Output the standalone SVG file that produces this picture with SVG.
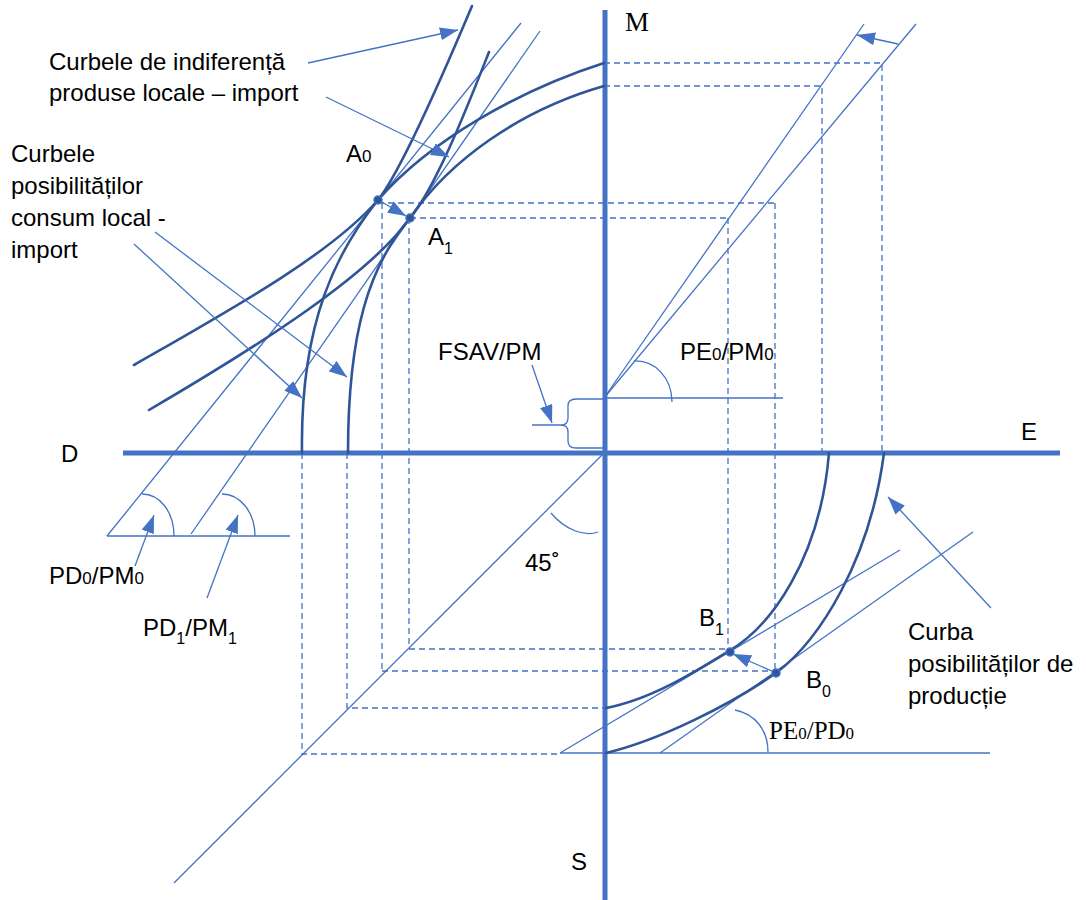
<svg xmlns="http://www.w3.org/2000/svg" width="1086" height="900" viewBox="0 0 1086 900">
<defs>
<style>
.axis{stroke:#4472C4;stroke-width:5;fill:none}
.curve{stroke:#2F5597;stroke-width:2.6;fill:none;stroke-linecap:round}
.thin{stroke:#4472C4;stroke-width:1.3;fill:none}
.dash{stroke:#4472C4;stroke-width:1.3;fill:none;stroke-dasharray:6 4}
.arr{stroke:#4472C4;stroke-width:1.3;fill:none;marker-end:url(#ah)}
.pt{fill:#2F5597;stroke:#4472C4;stroke-width:1.5}
.lbl{font-family:"Liberation Sans",Arial,sans-serif;font-size:24px;fill:#000}
.ser{font-family:"Liberation Serif","Times New Roman",serif;fill:#000}
</style>
<marker id="ah" viewBox="0 0 18 13" refX="18" refY="6.5" markerWidth="18" markerHeight="13" markerUnits="userSpaceOnUse" orient="auto">
<path d="M0,0 L18,6.5 L0,13 z" fill="#4472C4"/>
</marker>
</defs>
<rect width="1086" height="900" fill="#fff"/>

<g id="guides">
<path class="dash" d="M378,203 H775 M382,203 V671 M382,671 H776 M775,203 V671"/>
<path class="dash" d="M410,218 H728 M409,218 V649 M409,649 H729 M728,218 V649"/>
<path class="dash" d="M604,63 H882 V453 M604,86 H822 V453"/>
<path class="dash" d="M347,453 V708 H604 M302,453 V754 H560"/>
</g>

<g id="axes">
<line class="axis" x1="605" y1="10" x2="605" y2="900"/>
<line class="axis" x1="123" y1="453" x2="1060" y2="453"/>
</g>

<g id="thin-lines">
<line class="thin" x1="521" y1="23" x2="107" y2="536"/>
<line class="thin" x1="540" y1="31" x2="191" y2="534"/>
<line class="thin" x1="107" y1="536" x2="290" y2="536"/>
<path class="thin" d="M142,494 C160,494 174,512 174,536"/>
<path class="thin" d="M222,494 C240,494 255,512 255,536"/>
<line class="thin" x1="604" y1="398" x2="864" y2="24"/>
<line class="thin" x1="604" y1="398" x2="916" y2="24"/>
<line class="thin" x1="604" y1="398" x2="783" y2="398"/>
<path class="thin" d="M634,361 C655,360 672,378 672,402"/>
<path class="thin" d="M604,399 H576 Q568,399 568,406 V418 Q568,425 561,425 H532 M561,425 Q568,425 568,432 V441 Q568,448 576,448 H604"/>
<line class="thin" x1="174" y1="883" x2="604" y2="453"/>
<path class="thin" d="M551,513 C565,530 585,537 598,532"/>
<line class="thin" x1="560" y1="753" x2="990" y2="753"/>
<line class="thin" x1="560" y1="753" x2="900" y2="550"/>
<line class="thin" x1="660" y1="753" x2="973" y2="532"/>
<path class="thin" d="M735,710 C755,714 768,730 768,752"/>
</g>

<g id="curves">
<path class="curve" d="M604,63 C520,90 430,140 378,200 C330,255 230,310 134,365"/>
<path class="curve" d="M604,86 C520,110 450,160 410,218 C370,275 260,345 149,410"/>
<path class="curve" d="M472,6 C445,70 402,170 378,200 C338,250 300,320 302,453"/>
<path class="curve" d="M489,52 C470,100 436,188 410,218 C370,265 348,330 348,453"/>
<path class="curve" d="M606,708 C650,700 695,672 729,651 C770,627 820,560 829,453"/>
<path class="curve" d="M606,753 C660,740 730,705 776,673 C820,640 870,560 884,453"/>
</g>

<g id="connectors">
<line class="arr" x1="308" y1="63" x2="458" y2="30"/>
<line class="arr" x1="326" y1="97" x2="449" y2="157"/>
<line class="arr" x1="155" y1="232" x2="347" y2="377"/>
<line class="arr" x1="134" y1="244" x2="302" y2="398"/>
<line class="arr" x1="380" y1="201" x2="406" y2="216"/>
<line class="arr" x1="532" y1="365" x2="552" y2="423"/>
<line class="arr" x1="898" y1="44" x2="857" y2="35"/>
<line class="arr" x1="135" y1="566" x2="154" y2="515"/>
<line class="arr" x1="207" y1="598" x2="238" y2="515"/>
<line class="arr" x1="991" y1="608" x2="888" y2="497"/>
<line class="arr" x1="774" y1="672" x2="733" y2="654"/>
</g>

<g id="points">
<circle class="pt" cx="378" cy="200" r="4"/>
<circle class="pt" cx="410" cy="218" r="4"/>
<circle class="pt" cx="730" cy="652" r="4"/>
<circle class="pt" cx="776" cy="673" r="4"/>
</g>

<g id="label-indiferenta">
<text class="lbl" x="49" y="70">Curbele de indiferență</text>
<text class="lbl" x="49" y="101">produse locale – import</text>
</g>
<g id="label-consum">
<text class="lbl" x="11" y="162">Curbele</text>
<text class="lbl" x="11" y="194">posibilităților</text>
<text class="lbl" x="11" y="226">consum local -</text>
<text class="lbl" x="11" y="258">import</text>
</g>
<g id="label-productie">
<text class="lbl" x="908" y="640">Curba</text>
<text class="lbl" x="908" y="672">posibilităților de</text>
<text class="lbl" x="908" y="704">producție</text>
</g>
<g id="label-A0"><text class="lbl" x="346" y="162">A<tspan font-size="17">0</tspan></text></g>
<g id="label-A1"><text class="lbl" x="428" y="245">A<tspan font-size="16" dy="9">1</tspan></text></g>
<g id="label-B1"><text class="lbl" x="699" y="626">B<tspan font-size="16" dy="9">1</tspan></text></g>
<g id="label-B0"><text class="lbl" x="806" y="688">B<tspan font-size="16" dy="9">0</tspan></text></g>
<g id="label-FSAV"><text class="lbl" x="438" y="360">FSAV/PM</text></g>
<g id="label-PEPM"><text class="lbl" x="680" y="360">PE<tspan font-size="17">0</tspan>/PM<tspan font-size="17">0</tspan></text></g>
<g id="label-PDPM0"><text class="lbl" x="49" y="584">PD<tspan font-size="17">0</tspan>/PM<tspan font-size="17">0</tspan></text></g>
<g id="label-PDPM1"><text class="lbl" x="143" y="636">PD<tspan font-size="16" dy="8">1</tspan><tspan dy="-8">/PM</tspan><tspan font-size="16" dy="8">1</tspan></text></g>
<g id="label-PEPD"><text class="ser" x="769" y="739" font-size="25">PE<tspan font-size="17">0</tspan>/PD<tspan font-size="17">0</tspan></text></g>
<g id="label-45"><text class="lbl" x="525" y="571">45˚</text></g>
<g id="label-M"><text class="ser" x="625" y="31" font-size="27">M</text></g>
<g id="label-E"><text class="lbl" x="1021" y="440">E</text></g>
<g id="label-D"><text class="lbl" x="61" y="462">D</text></g>
<g id="label-S"><text class="lbl" x="571" y="870">S</text></g>
</svg>
